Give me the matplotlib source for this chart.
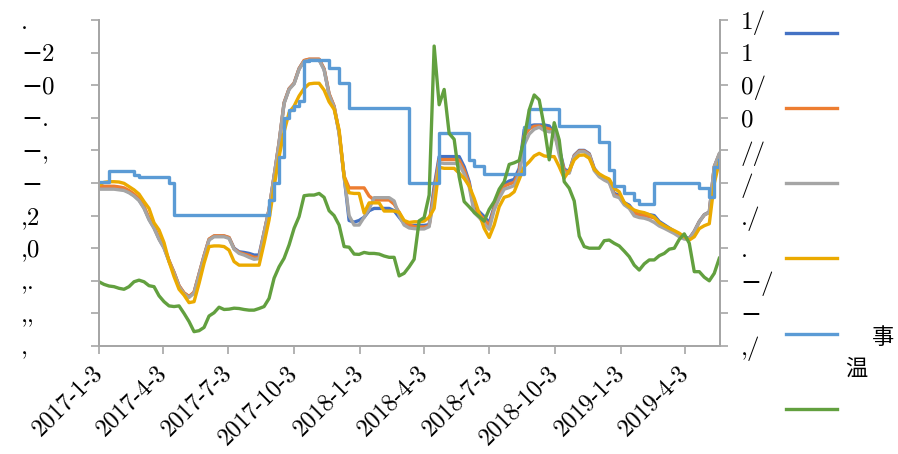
import pandas as pd
import matplotlib.pyplot as plt

# 周度采样
dates = pd.date_range('2017-01-03', periods=125, freq='7D')

tick_dates = ['2017-1-3', '2017-4-3', '2017-7-3', '2017-10-3', '2018-1-3',
              '2018-4-3', '2018-7-3', '2018-10-3', '2019-1-3', '2019-4-3']

left_labels = [',', ',,', ',.', ',0', ',2', '−', '−,', '−.', '−0', '−2', '.']
right_labels = [',/', '−', '−/', '.', './', '/', '//', '0', '0/', '1', '1/']

s_dblue = [4.84, 4.84, 4.84, 4.84, 4.82, 4.79, 4.72, 4.62, 4.48, 4.24, 3.89, 3.63, 3.29, 3.02, 2.61, 2.25,
           1.84, 1.62, 1.51, 1.64, 2.20, 2.76, 3.27, 3.37, 3.37, 3.37, 3.32, 3.00, 2.89, 2.87, 2.84, 2.79,
           2.79, 3.48, 4.19, 5.21, 6.24, 7.46, 7.89, 8.06, 8.51, 8.75, 8.79, 8.79, 8.79, 8.49, 7.72, 7.34,
           6.54, 5.21, 3.85, 3.80, 3.85, 3.95, 4.15, 4.22, 4.22, 4.22, 4.22, 4.15, 3.95, 3.76, 3.70,
           3.70, 3.70, 3.70, 3.72, 4.89, 5.81, 5.81, 5.81, 5.81, 5.81, 5.50, 5.04, 4.22, 4.12, 3.97, 3.78,
           4.27, 4.73, 4.97, 5.06, 5.11, 5.45, 6.63, 6.75, 6.78, 6.78, 6.78, 6.75, 6.52, 6.06, 5.42,
           5.36, 5.85, 6.00, 6.00, 5.90, 5.45, 5.25, 5.15, 5.08, 4.68, 4.62, 4.40, 4.32, 4.12, 4.06, 4.05,
           4.03, 4.00, 3.82, 3.72, 3.62, 3.52, 3.42, 3.34, 3.30, 3.52, 3.82, 4.03, 4.11, 5.50, 5.88]

s_orange = [4.90, 4.90, 4.90, 4.90, 4.88, 4.85, 4.77, 4.66, 4.52, 4.28, 3.93, 3.66, 3.31, 3.03, 2.62, 2.26,
            1.85, 1.63, 1.52, 1.65, 2.21, 2.77, 3.28, 3.38, 3.38, 3.38, 3.33, 2.98, 2.87, 2.82, 2.78, 2.72,
            2.72, 3.48, 4.19, 5.21, 6.24, 7.46, 7.89, 8.06, 8.51, 8.76, 8.80, 8.80, 8.80, 8.50, 7.74, 7.36,
            6.56, 5.21, 4.85, 4.85, 4.85, 4.85, 4.60, 4.48, 4.48, 4.48, 4.48, 4.35, 4.10, 3.80, 3.72,
            3.66, 3.65, 3.65, 3.69, 4.75, 5.72, 5.72, 5.72, 5.72, 5.70, 5.40, 4.98, 4.18, 4.05, 3.88, 3.70,
            4.22, 4.63, 4.90, 4.97, 5.02, 5.35, 6.45, 6.66, 6.74, 6.75, 6.70, 6.66, 6.55, 5.98, 5.38,
            5.33, 5.83, 5.98, 5.98, 5.88, 5.42, 5.22, 5.12, 5.05, 4.64, 4.58, 4.37, 4.28, 4.08, 4.02, 4.00,
            3.97, 3.93, 3.78, 3.68, 3.58, 3.49, 3.39, 3.31, 3.28, 3.51, 3.81, 4.02, 4.10, 5.50, 5.88]

s_gray = [4.81, 4.81, 4.81, 4.81, 4.79, 4.77, 4.70, 4.60, 4.46, 4.22, 3.87, 3.61, 3.27, 3.00, 2.59, 2.23,
          1.82, 1.60, 1.49, 1.62, 2.18, 2.74, 3.25, 3.35, 3.35, 3.35, 3.30, 2.97, 2.84, 2.79, 2.72, 2.66,
          2.68, 3.46, 4.17, 5.19, 6.22, 7.44, 7.87, 8.04, 8.49, 8.73, 8.77, 8.77, 8.77, 8.47, 7.70, 7.32,
          6.52, 5.19, 4.00, 3.71, 3.71, 3.95, 4.20, 4.55, 4.55, 4.55, 4.55, 4.45, 4.00, 3.71, 3.62,
          3.60, 3.59, 3.59, 3.66, 4.58, 5.62, 5.60, 5.60, 5.60, 5.58, 5.28, 4.89, 4.09, 3.94, 3.76, 3.58,
          4.17, 4.53, 4.81, 4.86, 4.92, 5.25, 6.17, 6.50, 6.65, 6.71, 6.61, 6.57, 6.57, 5.86, 5.30,
          5.30, 5.81, 5.96, 5.96, 5.86, 5.38, 5.19, 5.09, 5.01, 4.60, 4.55, 4.33, 4.22, 3.99, 3.94, 3.92,
          3.87, 3.79, 3.68, 3.61, 3.53, 3.45, 3.35, 3.28, 3.27, 3.51, 3.81, 4.02, 4.10, 5.50, 5.90]

s_yellow = [4.94, 5.02, 5.04, 5.04, 5.03, 4.99, 4.89, 4.79, 4.66, 4.43, 4.22, 3.78, 3.56, 3.17, 2.59, 2.13,
            1.74, 1.56, 1.33, 1.36, 1.92, 2.54, 3.05, 3.07, 3.07, 3.05, 2.94, 2.59, 2.48, 2.48, 2.48, 2.48,
            2.48, 3.15, 3.87, 4.89, 5.81, 6.57, 7.16, 7.36, 7.67, 7.90, 8.04, 8.06, 8.06, 7.85, 7.49, 7.26,
            6.63, 5.19, 4.70, 4.68, 4.68, 4.08, 4.39, 4.39, 4.39, 4.14, 4.14, 4.14, 4.10, 3.85, 3.79,
            3.81, 3.81, 3.83, 3.95, 4.22, 5.48, 5.45, 5.45, 5.45, 5.30, 5.14, 4.91, 4.53, 4.07, 3.61, 3.33,
            3.71, 4.27, 4.56, 4.61, 4.73, 5.11, 5.50, 5.65, 5.83, 5.91, 5.83, 5.81, 5.81, 5.50, 5.15,
            5.38, 5.71, 5.85, 5.86, 5.76, 5.42, 5.28, 5.19, 5.12, 4.84, 4.73, 4.40, 4.27, 4.17, 4.12, 4.09,
            4.03, 3.95, 3.78, 3.69, 3.61, 3.54, 3.46, 3.35, 3.25, 3.35, 3.60, 3.69, 3.75, 4.99, 5.65]

s_lblue = [5.04, 5.04, 5.38, 5.38, 5.38, 5.38, 5.38, 5.25, 5.17, 5.17, 5.17, 5.17, 5.17, 5.17, 5.01, 4.03,
           4.03, 4.03, 4.03, 4.03, 4.03, 4.03, 4.03, 4.03, 4.03, 4.03, 4.03, 4.03, 4.03, 4.03, 4.03, 4.03,
           4.03, 4.03, 4.48, 4.99, 5.81, 6.98, 7.24, 7.36, 7.53, 8.75, 8.77, 8.77, 8.77, 8.77, 8.52, 8.52,
           8.06, 8.06, 7.29, 7.29, 7.29, 7.29, 7.29, 7.29, 7.29, 7.29, 7.29, 7.29, 7.29, 7.29, 5.01,
           5.01, 5.01, 5.01, 5.01, 5.01, 6.52, 6.52, 6.52, 6.52, 6.52, 6.52, 5.71, 5.52, 5.52, 5.28,
           5.28, 5.28, 5.28, 5.28, 5.28, 5.28, 5.28, 6.73, 7.26, 7.26, 7.26, 7.26, 7.26, 7.26, 6.75, 6.75,
           6.75, 6.75, 6.75, 6.75, 6.75, 6.75, 6.27, 6.27, 5.40, 4.92, 4.92, 4.68, 4.68, 4.48, 4.35, 4.35,
           4.35, 5.01, 5.01, 5.01, 5.01, 5.01, 5.01, 5.01, 5.01, 5.01, 4.84, 4.84, 4.58, 5.50, 5.71]

s_green = [1.97, 1.89, 1.84, 1.82, 1.77, 1.74, 1.82, 1.97, 2.02, 1.97, 1.85, 1.82, 1.54, 1.36, 1.23, 1.21,
           1.23, 1.00, 0.75, 0.44, 0.47, 0.57, 0.92, 1.02, 1.19, 1.12, 1.13, 1.16, 1.15, 1.12, 1.10, 1.10,
           1.15, 1.21, 1.46, 2.08, 2.43, 2.69, 3.10, 3.61, 3.97, 4.61, 4.63, 4.63, 4.68, 4.56, 4.15, 4.00,
           3.71, 3.05, 3.03, 2.82, 2.81, 2.87, 2.84, 2.84, 2.82, 2.76, 2.72, 2.72, 2.15, 2.23, 2.43,
           2.66, 3.84, 3.94, 4.63, 9.20, 7.40, 7.87, 6.52, 6.34, 5.19, 4.43, 4.27, 4.10, 3.97, 3.83, 4.19,
           4.43, 4.81, 5.04, 5.57, 5.62, 5.69, 6.37, 7.24, 7.70, 7.55, 6.73, 5.71, 6.85, 6.32, 5.04,
           4.84, 4.45, 3.37, 3.05, 3.00, 3.00, 3.00, 3.23, 3.25, 3.15, 3.07, 2.91, 2.74, 2.48, 2.33, 2.52,
           2.64, 2.64, 2.77, 2.84, 2.97, 3.00, 3.27, 3.44, 3.15, 2.28, 2.28, 2.11, 2.00, 2.23, 2.69]

colors = ['#4472C4', '#ED7D31', '#A5A5A5', '#EBAA00', '#5B9BD5', '#62A03F']
axis_gray = '#A6A6A6'
tick_font = ['cmr10', 'DejaVu Serif']
fs = 18

fig = plt.figure(figsize=(8.98, 4.54), dpi=100)
ax = fig.add_axes([99 / 898, 1 - 346 / 454, 621 / 898, 326 / 454])
ax2 = ax.twinx()

lw = 2.4
h1, = ax.plot(dates, s_dblue, color=colors[0], lw=lw)
h2, = ax.plot(dates, s_orange, color=colors[1], lw=lw)
h3, = ax.plot(dates, s_gray, color=colors[2], lw=lw)
h4, = ax.plot(dates, s_yellow, color=colors[3], lw=lw)
h5, = ax.plot(dates, s_lblue, color=colors[4], lw=lw, drawstyle='steps-post')
h6, = ax2.plot(dates, s_green, color=colors[5], lw=lw)

ticks = pd.to_datetime(tick_dates, format='%Y-%m-%d')
ax.set_xlim(pd.Timestamp('2017-01-03'), pd.Timestamp('2019-05-22'))
ax.set_xticks(ticks)
ax.set_xticklabels(tick_dates, rotation=45, ha='right', rotation_mode='anchor',
                   va='center', family=tick_font, fontsize=17.5)

for a, labels in ((ax, left_labels), (ax2, right_labels)):
    a.set_ylim(0, 10)
    a.set_yticks(range(11))
    a.set_yticklabels(labels, family=tick_font, fontsize=fs)
    a.tick_params(axis='both', color=axis_gray, length=6, width=1.2)
    for side in ('left', 'right', 'bottom'):
        a.spines[side].set_color(axis_gray)
        a.spines[side].set_linewidth(1.3)
    a.spines['top'].set_visible(False)

ax.tick_params(axis='y', pad=50)
for lab in ax.get_yticklabels():
    lab.set_ha('left')
ax2.tick_params(axis='y', pad=9)
ax.tick_params(axis='x', pad=11)

fig.legend([h1, h2, h3, h4, h5, h6], [''] * 6, loc='upper left',
           bbox_to_anchor=(786 / 898, 1 - 22 / 454), frameon=False,
           handlelength=2.15, borderpad=0, borderaxespad=0,
           labelspacing=2.17, fontsize=17, handletextpad=0.3)

fig.text(872 / 898, 1 - 337 / 454, '事', fontsize=16, va='center',
         family=['Noto Sans CJK SC'])
fig.text(845 / 898, 1 - 368 / 454, '温', fontsize=16, va='center',
         family=['Noto Sans CJK SC'])

fig.savefig('out.png', dpi=100)
plt.close()
